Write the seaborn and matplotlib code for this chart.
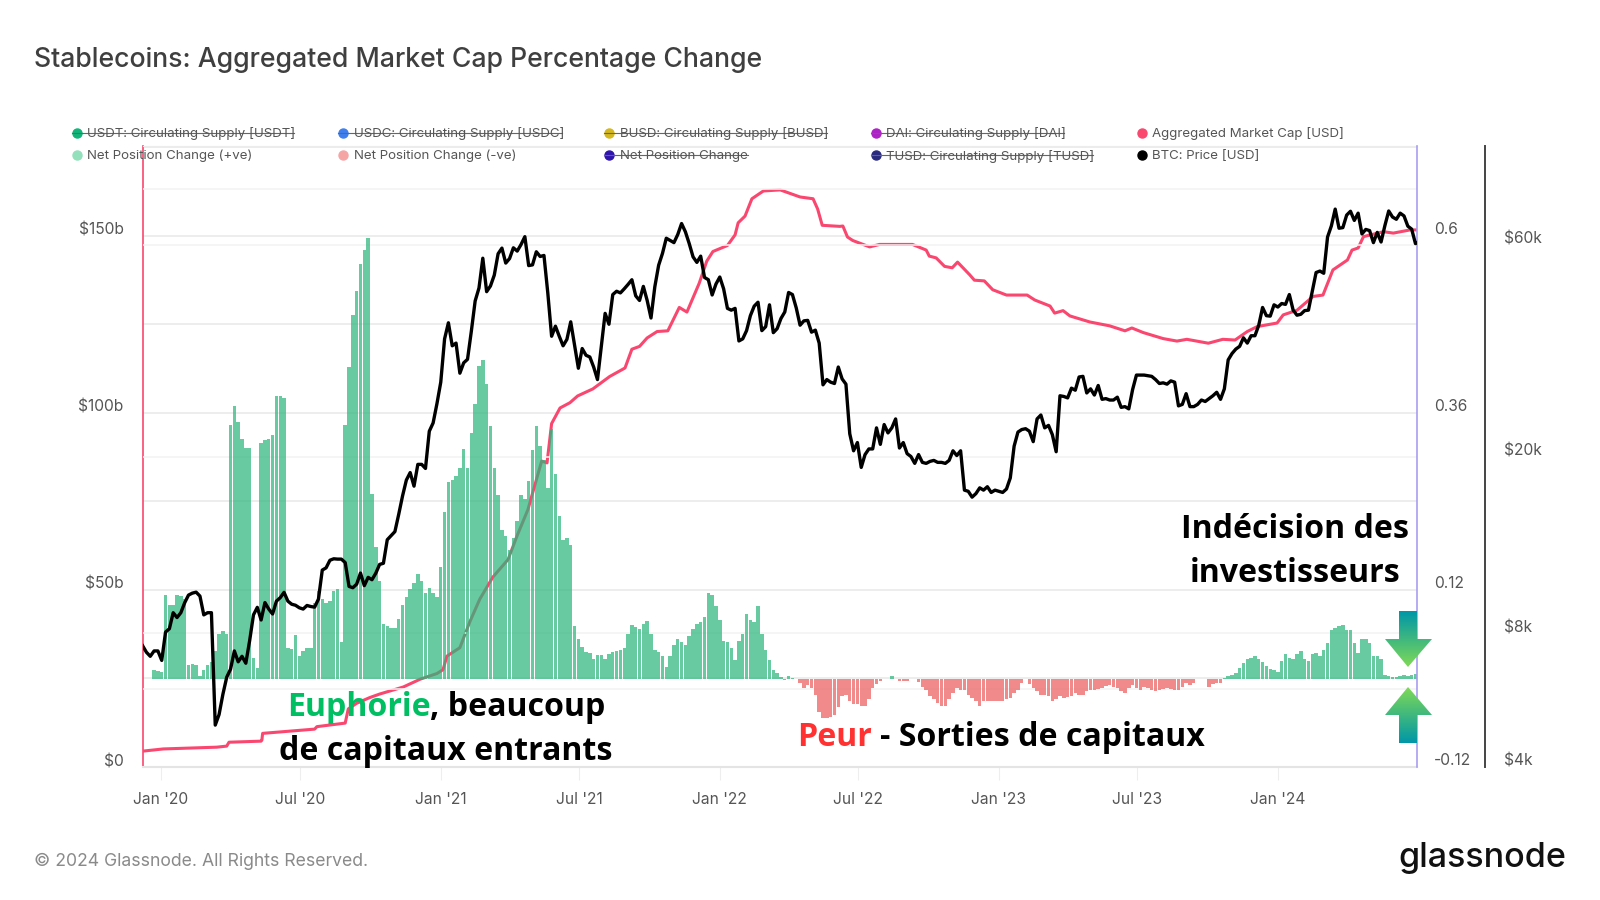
import pandas as pd
import seaborn as sns
import matplotlib.pyplot as plt
from matplotlib.lines import Line2D
from matplotlib.patches import Polygon
from matplotlib.transforms import ScaledTranslation
import numpy as np

plt.rcParams['font.family'] = ['Inter', 'DejaVu Sans']

# BTC price, one reading every 5 days from 2019-12-08
btc_price = [
  7500, 7250, 7100, 7300, 7300, 6950, 8050, 8190, 8900, 8680, 8900, 9370, 9750, 9850, 9900, 9700, 8800, 8900, 8900, 4970,
  5250, 5830, 6370, 6640, 7300, 6900, 7100, 6850, 7700, 8800, 9150, 8570, 9380, 9070, 8840, 9450, 9620, 9890, 9450, 9300,
  9250, 9130, 9070, 9240, 9190, 9160, 9550, 11100, 11230, 11680, 11770, 11750, 11750, 11540, 10200, 10130, 10320, 10930, 10240, 10690,
  10560, 10920, 11430, 11500, 12990, 13270, 13550, 14820, 16300, 17700, 18400, 17150, 19200, 19200, 18800, 22800, 23800, 26300, 29400, 36800,
  40000, 35500, 36000, 30800, 32500, 33100, 38300, 44800, 47900, 55900, 47000, 48400, 51200, 57200, 58900, 54500, 55800, 59000, 58000, 60000,
  62500, 53800, 54000, 57800, 56400, 56700, 46700, 37300, 39300, 37300, 35500, 36700, 40200, 35600, 31600, 35000, 33800, 33500, 31800, 29800,
  35400, 42000, 39700, 46300, 47100, 46700, 47700, 48800, 50000, 46000, 44900, 48300, 44900, 41000, 48200, 53900, 57300, 62000, 61300, 60600,
  63200, 66900, 64100, 60300, 56300, 54700, 56500, 50600, 50000, 46200, 48900, 50700, 47700, 43100, 42700, 43100, 36400, 36800, 38400, 41500,
  43600, 44500, 38400, 39200, 43900, 38000, 38800, 40900, 42300, 46800, 46300, 43200, 39500, 40400, 40500, 38100, 38500, 36000, 29000, 29800,
  29400, 29200, 31800, 29900, 29100, 22500, 20600, 21500, 18900, 20200, 20800, 20800, 23200, 21300, 23600, 22600, 23200, 24300, 20900, 21500,
  20300, 20000, 19300, 20200, 19400, 19300, 19500, 19600, 19400, 19400, 19300, 19600, 20600, 20100, 20600, 16800, 16700, 16200, 16500, 17000,
  16800, 17100, 16600, 16800, 16700, 16600, 16900, 17900, 21100, 22700, 23000, 23100, 22800, 21600, 24300, 24800, 23200, 23500, 22400, 20500,
  27400, 27300, 27100, 28500, 28200, 30200, 30300, 27800, 28400, 27500, 28900, 26900, 27000, 26800, 26800, 27200, 25800, 25900, 25600, 28300,
  30500, 30500, 30500, 30400, 30300, 29800, 29200, 29300, 29100, 29600, 29400, 26000, 26200, 27700, 25900, 25900, 26200, 26800, 26600, 27000,
  27400, 27900, 26900, 28400, 33000, 34100, 34900, 35400, 37000, 36000, 37400, 37400, 39500, 43300, 41500, 41400, 43900, 43400, 44200, 44000,
  46300, 42700, 41600, 41800, 42600, 42700, 47100, 51900, 52300, 51700, 62400, 66100, 72100, 65300, 65500, 69900, 71300, 68000, 70600, 63400,
  64900, 64500, 60600, 63900, 60800, 66200, 71400, 69200, 68400, 70600, 69600, 66000, 65000, 60300, 60900]

# Net position change, same 5 day steps
net_change = [
  0, 0, 0, .012, .010, .009, .114, .100, .100, .114, .112, .108, .019, .020, .019, .003, .012, .019, .023, .037,
  .061, .064, .061, .344, .370, .348, .325, .313, .313, .028, .014, .320, .323, .325, .330, .383, .383, .381, .042, .040,
  .059, .030, .037, .041, .042, .103, .119, .108, .103, .105, .119, .122, .049, .344, .423, .493, .526, .563, .582, .598,
  .250, .179, .132, .074, .071, .068, .069, .081, .100, .111, .121, .130, .142, .132, .116, .123, .116, .111, .151, .226,
  .266, .270, .275, .286, .312, .286, .333, .373, .424, .432, .399, .343, .286, .249, .202, .193, .175, .191, .214, .249,
  .244, .268, .310, .343, .315, .296, .259, .338, .277, .221, .188, .191, .181, .071, .053, .043, .036, .034, .027, .032,
  .032, .026, .033, .036, .038, .039, .041, .060, .072, .070, .067, .074, .078, .060, .039, .036, .030, .016, .030, .046,
  .053, .049, .046, .058, .067, .074, .077, .084, .116, .114, .098, .079, .051, .049, .042, .025, .051, .060, .087, .079,
  .077, .098, .060, .039, .025, .011, .007, .002, -.002, .003, .001, -.001, -.006, -.013, -.009, -.013, -.022, -.045, -.053, -.053,
  -.052, -.049, -.038, -.024, -.022, -.031, -.034, -.035, -.037, -.037, -.028, -.013, -.007, -.004, -.001, 0, .003, -.001, -.003, -.004,
  -.004, -.001, -.001, -.005, -.011, -.015, -.024, -.028, -.033, -.037, -.037, -.028, -.019, -.013, -.015, -.015, -.022, -.026, -.031, -.037,
  -.031, -.031, -.031, -.031, -.031, -.031, -.028, -.026, -.019, -.015, -.006, -.001, -.008, -.013, -.017, -.022, -.023, -.024, -.031, -.028,
  -.024, -.026, -.025, -.024, -.019, -.022, -.022, -.017, -.016, -.015, -.014, -.013, -.010, -.009, -.011, -.013, -.017, -.019, -.013, -.009,
  -.013, -.015, -.011, -.013, -.015, -.017, -.015, -.014, -.013, -.014, -.016, -.016, -.011, -.006, -.009, -.006, -.001, 0, -.001, -.012,
  -.008, -.006, -.006, .001, .003, .005, .008, .014, .021, .027, .028, .030, .026, .022, .017, .013, .011, .009, .024, .033,
  .028, .026, .033, .038, .026, .024, .033, .035, .030, .039, .048, .066, .069, .071, .072, .066, .066, .048, .035, .053,
  .054, .048, .030, .030, .026, .005, .003, .002, .002, .003, .005, .003, .005, .006]

# Aggregated market cap in $b, read at days counted from 2020-01-01
cap_days = [
  -23, 3, 73, 86, 89, 131, 132, 133, 201, 204, 241, 245, 256, 273, 286, 317, 339, 361, 369, 374,
  391, 404, 417, 434, 454, 466, 480, 498, 505, 511, 522, 535, 545, 565, 587, 607, 616, 626, 636, 649,
  663, 678, 688, 704, 714, 722, 741, 751, 755, 764, 773, 788, 810, 836, 853, 859, 865, 888, 892, 898,
  905, 927, 940, 983, 1001, 1005, 1014, 1025, 1035, 1042, 1058, 1064, 1077, 1088, 1106, 1133, 1143, 1163, 1169, 1180,
  1189, 1215, 1241, 1261, 1270, 1285, 1311, 1329, 1342, 1370, 1389, 1405, 1421, 1434, 1460, 1468, 1486, 1507, 1520, 1533,
  1552, 1558, 1566, 1573, 1599, 1612, 1634, 1643]
cap_value = [
  4.5, 5.1, 5.6, 5.9, 7, 7.3, 7.6, 9.5, 10.7, 11.4, 12.4, 16.4, 18, 19.6, 20.6, 22.6, 24.8, 26.4, 27.5, 31.3,
  33.7, 41, 47.4, 53.6, 58.6, 65.4, 72.7, 86.4, 85.9, 97, 101.4, 102.9, 104.8, 106.8, 110.3, 112.7, 118, 118.8, 121.2, 123,
  123.2, 129.8, 128.5, 136.6, 142.9, 145.6, 147.3, 150.3, 153.7, 155.6, 160.5, 162.7, 163, 161, 160.5, 157.6, 153, 152.7, 152.8, 149.7,
  148.7, 146.9, 147.6, 147.6, 146, 144.3, 143.8, 141.4, 141, 142.6, 139, 137.5, 137.3, 134.8, 133.3, 133.3, 131.9, 130.2, 128.2, 128.9,
  127.4, 125.7, 124.6, 123.2, 124, 122.7, 121, 120.3, 120.8, 119.7, 120.8, 120.6, 123, 124.4, 125.4, 127.7, 129, 132.9, 133.3, 140.4,
  143.2, 146, 146.6, 149.8, 151.2, 150.8, 151.7, 151.7]

btc_df = pd.DataFrame({'date': pd.date_range('2019-12-08', periods=len(btc_price), freq='5D'), 'price': btc_price})
net_df = pd.DataFrame({'date': pd.date_range('2019-12-08', periods=len(net_change), freq='5D'), 'change': net_change})
net_df['sign'] = np.where(net_df['change'] >= 0, 'pos', 'neg')
cap_df = pd.DataFrame({'date': pd.Timestamp('2020-01-01') + pd.to_timedelta(cap_days, unit='D'), 'cap': cap_value})

fig = plt.figure(figsize=(16, 9), dpi=100)
ax = fig.add_axes([143 / 1600, 1 - 767 / 900, 1274 / 1600, 621 / 900])
ax_btc = ax.twinx()
ax_pct = ax.twinx()
ax_line = ax.twinx()

# Market cap line sits under the bars
sns.lineplot(data=cap_df, x='date', y='cap', color='#f9476f', linewidth=2.2, ax=ax)
ax.set_ylim(0, 175.4)
ax.set_yticks([0, 50, 100, 150], ['$0', '$50b', '$100b', '$150b'])
ax.set_yticks([25, 75, 125, 175], minor=True)
ax.grid(axis='y', which='both', color='#e8e8e8', linewidth=1.1)
ax.set_axisbelow(True)
ax.set_xlabel('')
ax.set_ylabel('')

# Net position bars
sns.barplot(data=net_df, x='date', y='change', hue='sign', palette={'pos': '#2eb67d', 'neg': '#ec5f5f'},
            hue_order=['pos', 'neg'], dodge=False, native_scale=True, saturation=1, width=0.9, alpha=0.72,
            legend=False, ax=ax_pct)
ax_pct.set_ylim(-0.12, 0.7224)
ax_pct.set_yticks([-0.12, 0.12, 0.36, 0.6], ['-0.12', '0.12', '0.36', '0.6'])
ax_pct.set_xlabel('')
ax_pct.set_ylabel('')

# BTC axis with its own lighter grid
ax_btc.set_yscale('log')
ax_btc.set_ylim(4000, 100000)
ax_btc.set_yticks([4000, 8000, 20000, 60000], ['$4k', '$8k', '$20k', '$60k'])
ax_btc.set_yticks([], minor=True)
ax_btc.grid(False)
for level in [6000, 8000, 20000, 60000, 80000]:
  ax_btc.axhline(level, color='#f2f2f2', linewidth=1.1, zorder=0)

# BTC price line on top of everything
sns.lineplot(data=btc_df, x='date', y='price', color='black', linewidth=2.4, ax=ax_line)
ax_line.set_yscale('log')
ax_line.set_ylim(4000, 100000)
ax_line.set_xlabel('')
ax_line.set_ylabel('')
ax_line.axis('off')

months = pd.to_datetime(['2020-01-01', '2020-07-01', '2021-01-01', '2021-07-01', '2022-01-01',
                         '2022-07-01', '2023-01-01', '2023-07-01', '2024-01-01'])
ax.set_xticks(months, [m.strftime("%b '%y") for m in months])
ax.set_xlim(pd.Timestamp('2019-12-08 12:00'), pd.Timestamp('2024-07-01'))

# Axis look
for a in [ax, ax_btc, ax_pct, ax_line]:
  for side in a.spines:
    a.spines[side].set_visible(False)
ax.spines['left'].set_visible(True)
ax.spines['left'].set_color('#f9476f')
ax.spines['left'].set_linewidth(1.2)
ax.spines['bottom'].set_visible(True)
ax.spines['bottom'].set_color('#e4e4e4')
ax.spines['bottom'].set_linewidth(1.5)
ax.spines['top'].set_visible(True)
ax.spines['top'].set_color('#ececec')
ax_pct.spines['right'].set_visible(True)
ax_pct.spines['right'].set_color('#a79ef0')
ax_pct.spines['right'].set_linewidth(1.2)
ax_btc.spines['right'].set_visible(True)
ax_btc.spines['right'].set_position(('outward', 49))
ax_btc.spines['right'].set_color('#444444')
ax_btc.spines['right'].set_linewidth(1.4)

ax.tick_params(axis='x', length=9.5, color='#eeeeee', labelsize=11.2, labelcolor='#555555', pad=8.5)
ax.tick_params(axis='y', which='both', length=0, labelsize=11.2, labelcolor='#555555', pad=14)
ax_pct.tick_params(axis='y', length=0, labelsize=11.2, labelcolor='#555555', pad=12.5)
ax_btc.tick_params(axis='y', length=0, labelsize=11.2, labelcolor='#555555', pad=13.5)
for a in [ax, ax_btc]:
  for label in a.get_yticklabels():
    label.set_verticalalignment('bottom')
    label.set_transform(label.get_transform() + ScaledTranslation(0, -0.02, fig.dpi_scale_trans))
for label in ax_pct.get_yticklabels():
  label.set_verticalalignment('bottom')
  label.set_transform(label.get_transform() + ScaledTranslation(0, -0.01, fig.dpi_scale_trans))

# Everything else goes on a layer counted in pixels
top = fig.add_axes([0, 0, 1, 1], zorder=10)
top.set_xlim(0, 1600)
top.set_ylim(900, 0)
top.axis('off')

top.text(34, 60, 'Stablecoins: Aggregated Market Cap Percentage Change', fontsize=19.2, color='#3f3f3f',
         fontweight='medium', va='center')
top.text(34, 861, '© 2024 Glassnode. All Rights Reserved.', fontsize=12.7, color='#8a8a8a', va='center')
top.text(1566, 858, 'glassnode', fontsize=24.5, color='#111111', ha='right', va='center', fontweight='medium')

# Legend, struck through when the series is switched off
legend_rows = [
  (76.5, 132.6, '#0fb57a', 'USDT: Circulating Supply [USDT]', 294),
  (343, 132.6, '#3d7ff0', 'USDC: Circulating Supply [USDC]', 562),
  (609, 132.6, '#d4b81e', 'BUSD: Circulating Supply [BUSD]', 827),
  (875.5, 132.6, '#b020c8', 'DAI: Circulating Supply [DAI]', 1064),
  (1142, 132.6, '#f9476f', 'Aggregated Market Cap [USD]', None),
  (76.5, 155, '#93e0bd', 'Net Position Change (+ve)', None),
  (343, 155, '#f6a5a5', 'Net Position Change (-ve)', None),
  (609, 155, '#2f14b0', 'Net Position Change', 748),
  (875.5, 155, '#2a2a80', 'TUSD: Circulating Supply [TUSD]', 1093),
  (1142, 155, 'black', 'BTC: Price [USD]', None),
]
for x, y, color, name, strike_end in legend_rows:
  top.plot([x], [y], 'o', color=color, markersize=6.5)
  top.text(x + 10.5, y + 1.2, name, fontsize=9.55, color='#555555', va='center')
  if strike_end:
    top.add_line(Line2D([x - 5, strike_end], [y, y], color='#666666', linewidth=0.8))

# Comments over the chart
bold = dict(family='Open Sans', fontweight='bold', fontsize=23.1, va='center', color='black')
top.text(287, 708, 'Euphorie', **{**bold, 'color': '#00bf63'})
top.text(429.6, 708, ', beaucoup', **bold)
top.text(446, 751, 'de capitaux entrants', ha='center', **bold)
top.text(797, 737, 'Peur', **{**bold, 'color': '#ff3131'})
top.text(880, 737, '- Sorties de capitaux', **bold)
top.text(1295, 530, 'Indécision des', ha='center', **bold)
top.text(1295, 574, 'investisseurs', ha='center', **bold)

# Two gradient arrows
gradient = np.linspace(0, 1, 64).reshape(-1, 1)
arrow_cmap = plt.matplotlib.colors.LinearSegmentedColormap.from_list('arrow', ['#0097a7', '#7ed957'])
arrows = [
  ([(1399, 611), (1417, 611), (1417, 639), (1432, 639), (1408, 667), (1385, 639), (1399, 639)], (1385, 1432, 667, 611)),
  ([(1399, 743), (1417, 743), (1417, 715), (1432, 715), (1408, 687), (1385, 715), (1399, 715)], (1385, 1432, 687, 743)),
]
for points, extent in arrows:
  image = top.imshow(gradient, extent=extent, cmap=arrow_cmap, aspect='auto', origin='upper')
  patch = Polygon(points, closed=True, transform=top.transData, facecolor='none', edgecolor='none')
  top.add_patch(patch)
  image.set_clip_path(patch)
top.set_xlim(0, 1600)
top.set_ylim(900, 0)

plt.savefig('out.png', dpi=100)
